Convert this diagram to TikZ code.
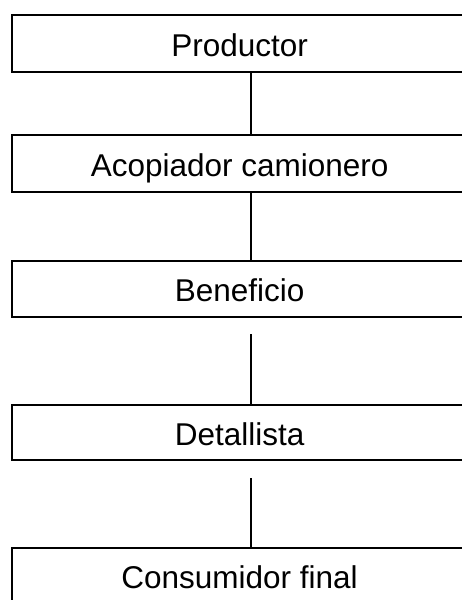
\documentclass[tikz,border=0pt]{standalone}
\usepackage{fontspec}
\setmainfont{Liberation Sans}
\begin{document}
\begin{tikzpicture}[x=1pt,y=-1pt,
  box/.style={draw, line width=2.2pt, rectangle, minimum width=455pt, inner sep=0pt,
    anchor=north west, font=\fontsize{31.5}{36}\selectfont, text height=25pt, text depth=0pt},
  conn/.style={line width=2.2pt}]
\useasboundingbox (0,0) rectangle (462,600);
\clip (0,0) rectangle (462,600);
\coordinate (lx) at (251,0);
\node[box, minimum height=57pt] (b1) at (11,14) {Productor};
\node[box, minimum height=57pt] (b2) at (11,134) {Acopiador camionero};
\node[box, minimum height=56pt] (b3) at (11,260) {Beneficio};
\node[box, minimum height=55pt] (b4) at (11,404) {Detallista};
\node[box, minimum height=56pt] (b5) at (11,547) {Consumidor final};
\draw[conn] (b1.south -| lx) -- (b2.north -| lx);
\draw[conn] (b2.south -| lx) -- (b3.north -| lx);
\draw[conn, shorten <=16pt] (b3.south -| lx) -- (b4.north -| lx);
\draw[conn, shorten <=17pt] (b4.south -| lx) -- (b5.north -| lx);
\end{tikzpicture}
\end{document}
